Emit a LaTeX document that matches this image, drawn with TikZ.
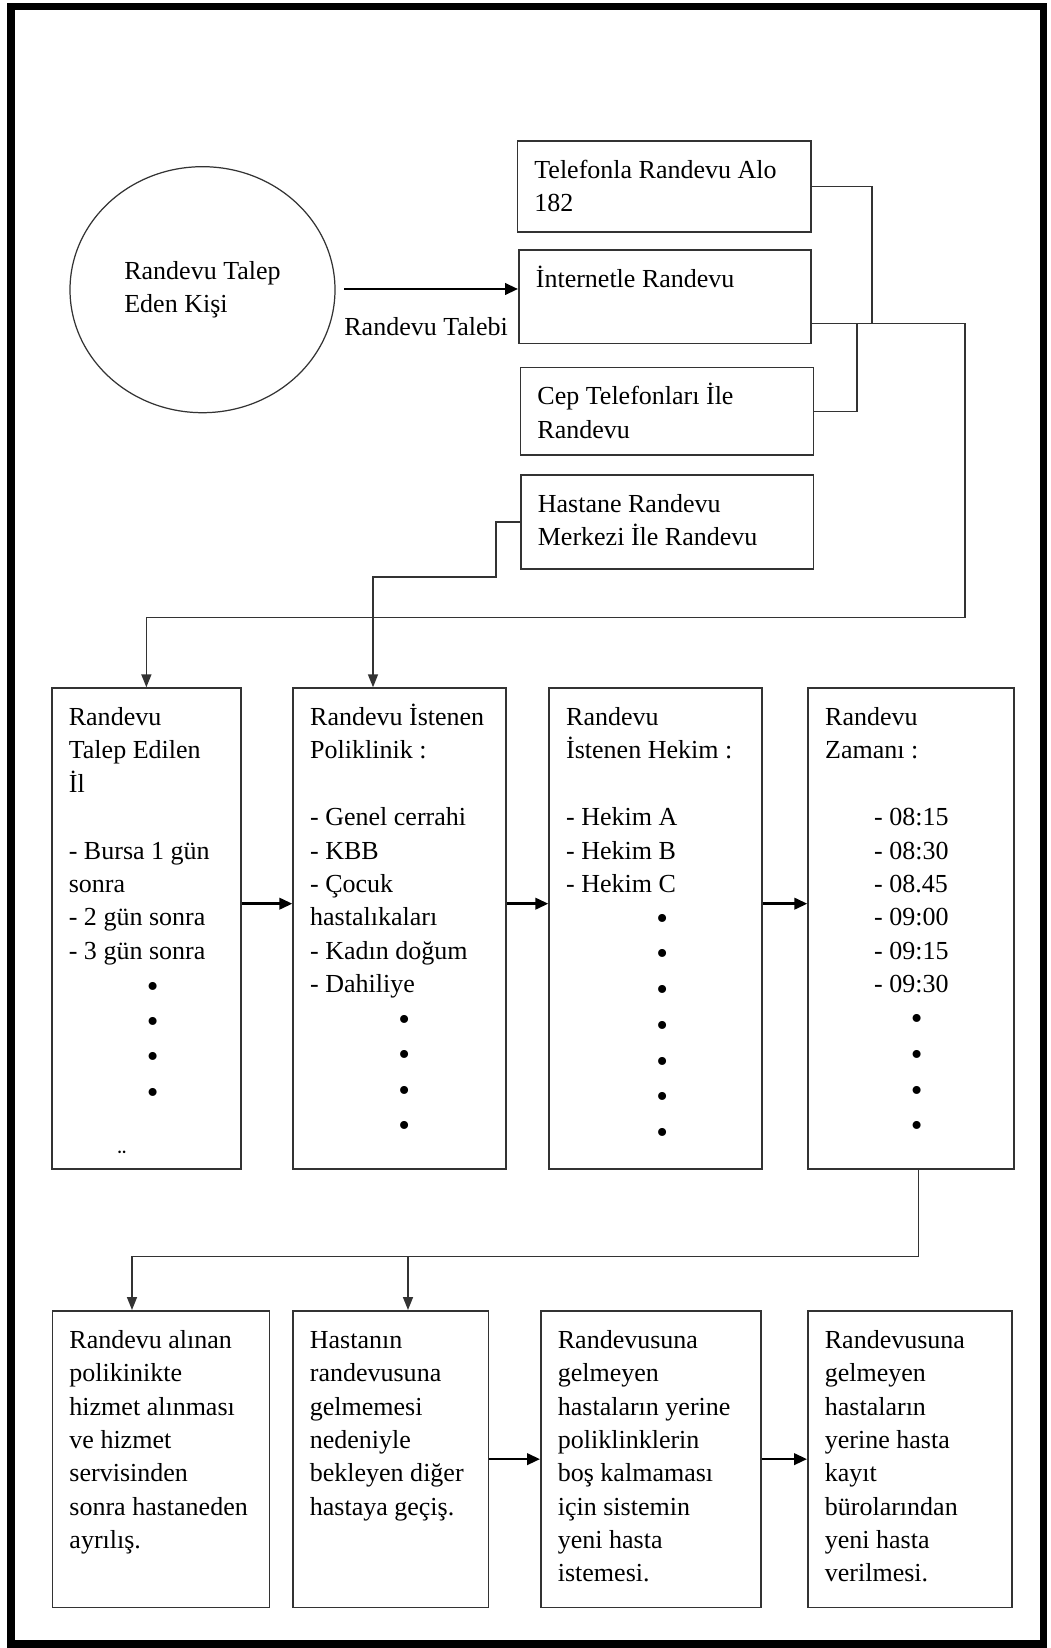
\documentclass[tikz,border=0pt]{standalone}
\usepackage{fontspec}
\setmainfont{Liberation Serif}
\usetikzlibrary{arrows.meta,positioning,shapes.geometric}
\newcommand{\trfont}{\fontsize{14.8pt}{19pt}\selectfont}
\colorlet{linegray}{black!80}
\tikzstyle{box}=[draw=linegray,rectangle,line width=1pt,inner sep=0pt,anchor=north west]
\tikzstyle{txt}=[inner sep=0pt,anchor=north west,align=left,font=\trfont]
\tikzstyle{bul}=[inner sep=0pt,font=\fontsize{19pt}{19pt}\selectfont]
\tikzstyle{wire}=[draw=linegray,line width=.9pt]
\tikzstyle{arr}=[wire,-{Triangle[length=2.6mm,width=2mm]}]
\tikzstyle{fatarr}=[wire,draw=black,line width=1.4pt,-{Triangle[length=2.6mm,width=2.3mm]}]
\tikzstyle{outerframe}=[draw=black,line width=1.5mm]

\begin{document}
\begin{tikzpicture}[x=0.2mm,y=-0.2mm]
  \tikzset{inside/.style={txt,at={([shift={(17.5,14.5)}]#1.north west)}}}
  \useasboundingbox (0,0) rectangle (1050,1648);
  \draw[outerframe] (11,6.5) rectangle (1043.5,1644);

  % talep eden kisi
  \node[ellipse,draw=linegray,line width=.7pt,inner sep=0pt,minimum width=53mm,
    minimum height=49.2mm,align=left,font=\trfont] (kisi) at (202.5,289.7)
    {Randevu Talep\\Eden Kişi};
  \coordinate (t0) at (344,289);
  \node[txt,anchor=base west] (talebi) at (344,336) {Randevu Talebi};

  % randevu kanallari
  \node[box,minimum width=58.7mm,minimum height=18.3mm] (tel) at (516.5,140) {};
  \node[box,minimum width=58.4mm,minimum height=18.7mm] (net) at (518,249) {};
  \node[box,minimum width=58.6mm,minimum height=17.5mm] (cep) at (519.6,366.7) {};
  \node[box,minimum width=58.5mm,minimum height=18.8mm] (hst) at (520,474) {};
  \node[inside=tel] (tel-t) {\strut Telefonla Randevu Alo\\182};
  \node[inside=net] (net-t) {\strut İnternetle Randevu};
  \node[inside=cep] (cep-t) {\strut Cep Telefonları İle\\Randevu};
  \node[inside=hst] (hst-t) {\strut Hastane Randevu\\Merkezi İle Randevu};

  % secimler
  \node[box,minimum width=37.8mm,minimum height=96.2mm] (il) at (51,687.3) {};
  \node[box,minimum width=42.5mm,minimum height=96.2mm] (pol) at (292.3,687.3) {};
  \node[box,minimum width=42.5mm,minimum height=96.2mm] (hek) at (548.3,687.3) {};
  \node[box,minimum width=41.2mm,minimum height=96.2mm] (zmn) at (807.3,687.3) {};
  \node[inside=il] (il-t) {\strut Randevu\\Talep Edilen\\İl\\[19pt]- Bursa 1 gün\\sonra\\- 2 gün sonra\\- 3 gün sonra};
  \node[inside=pol] (pol-t) {\strut Randevu İstenen\\Poliklinik :\\[19pt]- Genel cerrahi\\- KBB\\- Çocuk\\hastalıkaları\\- Kadın doğum\\- Dahiliye};
  \node[inside=hek] (hek-t) {\strut Randevu\\İstenen Hekim :\\[19pt]- Hekim A\\- Hekim B\\- Hekim C};
  \node[inside=zmn] (zmn-t) {\strut Randevu\\Zamanı :\\[19pt]\hspace*{9.8mm}- 08:15\\\hspace*{9.8mm}- 08:30\\\hspace*{9.8mm}- 08.45\\\hspace*{9.8mm}- 09:00\\\hspace*{9.8mm}- 09:15\\\hspace*{9.8mm}- 09:30};
  \foreach \k in {0,...,3} \node[bul] (il-b\k) at ([shift={(101.7,302.7+35.2*\k)}]il.north west) {•};
  \foreach \k in {0,...,3} \node[bul] (pol-b\k) at ([shift={(112,335.7+35.3*\k)}]pol.north west) {•};
  \foreach \k in {0,...,6} \node[bul] (hek-b\k) at ([shift={(114,234.4+35.7*\k)}]hek.north west) {•};
  \foreach \k in {0,...,3} \node[bul] (zmn-b\k) at ([shift={(109.4,334.4+35.9*\k)}]zmn.north west) {•};
  \node[txt,anchor=base] (il-x) at (122,1167) {¨};

  % sonuclar
  \node[box,minimum width=43.4mm,minimum height=59.3mm] (s1) at (51.6,1310) {};
  \node[box,minimum width=39.1mm,minimum height=59.3mm] (s2) at (292,1310) {};
  \node[box,minimum width=44mm,minimum height=59.3mm] (s3) at (540,1310) {};
  \node[box,minimum width=40.8mm,minimum height=59.3mm] (s4) at (807,1310) {};
  \node[inside=s1] (s1-t) {\strut Randevu alınan\\polikinikte\\hizmet alınması\\ve hizmet\\servisinden\\sonra hastaneden\\ayrılış.};
  \node[inside=s2] (s2-t) {\strut Hastanın\\randevusuna\\gelmemesi\\nedeniyle\\bekleyen diğer\\hastaya geçiş.};
  \node[inside=s3] (s3-t) {\strut Randevusuna\\gelmeyen\\hastaların yerine\\poliklinklerin\\boş kalmaması\\için sistemin\\yeni hasta\\istemesi.};
  \node[inside=s4] (s4-t) {\strut Randevusuna\\gelmeyen\\hastaların\\yerine hasta\\kayıt\\bürolarından\\yeni hasta\\verilmesi.};

  % baglantilar
  \coordinate (jt) at (872,323.5);
  \coordinate (jc) at (857,323.5);
  \coordinate (r1) at (965,617.5);
  \coordinate (h1) at (496,577);
  \coordinate (h2) at (373,577);
  \coordinate (k1) at (918.5,1256.5);
  \coordinate (k2) at (132,1256.5);
  \coordinate (k3) at (408,1256.5);

  \draw[fatarr] (t0) -- (t0 -| net.west);
  \draw[wire] (tel.east) -| (jt);
  \draw[wire] (cep.east) -| (jc);
  \draw[arr] (net.east |- jt) -| (r1) -| (il.north);
  \draw[arr] (hst.west) -| (h1) -- (h2) -- (h2 |- pol.north);
  \draw[fatarr] ([yshift=5mm]il.east) -- ([yshift=5mm]pol.west);
  \draw[fatarr] ([yshift=5mm]pol.east) -- ([yshift=5mm]hek.west);
  \draw[fatarr] ([yshift=5mm]hek.east) -- ([yshift=5mm]zmn.west);
  \draw[arr] (k1 |- zmn.south) -- (k1) -- (k2) -- (k2 |- s1.north);
  \draw[arr] (k3) -- (k3 |- s2.north);
  \draw[fatarr] (s2.east) -- (s3.west);
  \draw[fatarr] (s3.east) -- (s4.west);
\end{tikzpicture}
\end{document}
